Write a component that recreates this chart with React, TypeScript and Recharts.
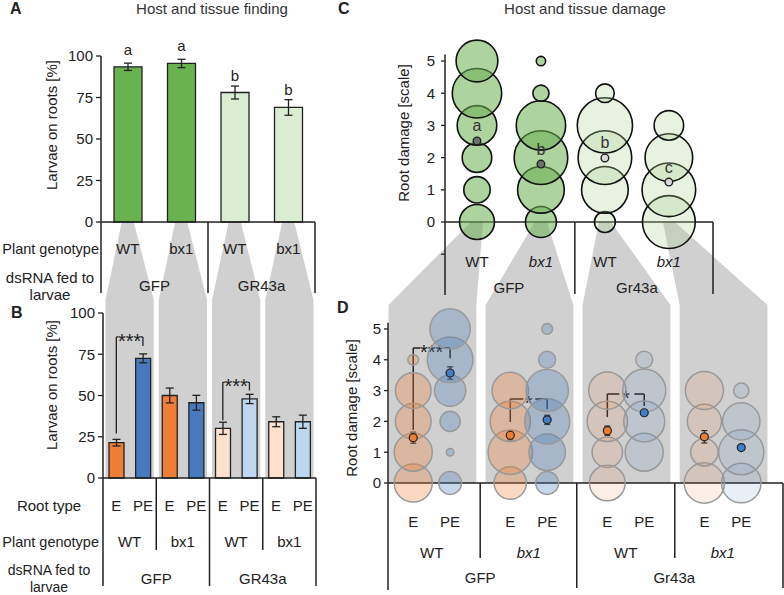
import React from 'react'
import {
  BarChart, Bar, ScatterChart, Scatter, XAxis, YAxis,
  ErrorBar, Cell, LabelList, ReferenceLine,
} from 'recharts'

const W = 784
const H = 595
const FONT = '"Liberation Sans", Arial, Helvetica, sans-serif'
const INK = '#222'
const SHADE = '#D0D0D0'

// A: host finding (% larvae on roots)
const aGenotypes = ['WT', 'bx1', 'WT', 'bx1']
const aDsRNA = ['GFP', 'GFP', 'GR43a', 'GR43a']
const aValues = [93.5, 95.5, 78, 69]
const aErrors = [2.2, 2.5, 3.9, 4.7]
const aLetters = ['a', 'a', 'b', 'b']

// B: tissue finding, per root type
const bRootTypes = ['E', 'PE', 'E', 'PE', 'E', 'PE', 'E', 'PE']
const bGenotypes = ['WT', 'WT', 'bx1', 'bx1', 'WT', 'WT', 'bx1', 'bx1']
const bDsRNA = ['GFP', 'GFP', 'GFP', 'GFP', 'GR43a', 'GR43a', 'GR43a', 'GR43a']
const bValues = [21.4, 72.5, 50, 45.6, 30.1, 47.9, 34.1, 34.1]
const bErrors = [2, 2.7, 4.5, 4.5, 3.7, 2.8, 3, 4]
const bBrackets = [
  { from: 0, to: 1, top: 85.5, left: 27, right: 80, label: '***' },
  { from: 4, to: 5, top: 58, left: 35, right: 53, label: '***' },
]

// C: host damage, % of plants per damage score
const cGenotypes = ['WT', 'bx1', 'WT', 'bx1']
const cDsRNA = ['GFP', 'GFP', 'Gr43a', 'Gr43a']
const scores = [0, 1, 2, 3, 4, 5]
const cShares = [
  [14, 8, 10, 18, 28, 20],
  [11, 25, 33, 28, 3, 1],
  [5, 25, 33, 35, 4, 0],
  [32, 33, 26, 10, 0, 0],
]
const cMeans = [2.52, 1.8, 1.99, 1.24]
const cErrors = [0.06, 0.06, 0.05, 0.05]
const cLetters = ['a', 'b', 'b', 'c']

// D: tissue damage, % of roots per damage score
const dGenotypes = ['WT', 'bx1', 'WT', 'bx1']
const dDsRNA = ['GFP', 'GFP', 'Gr43a', 'Gr43a']
const dRootTypes = ['E', 'PE']
const dSharesE = [
  [25, 25, 22, 22, 2, 0],
  [18, 34, 28, 23, 0, 0],
  [22, 16, 28, 24, 0, 0],
  [28, 13, 20, 25, 0, 0],
]
const dSharesPE = [
  [9, 1, 7, 17, 36, 28],
  [9, 23, 35, 31, 5, 2],
  [0, 25, 29, 32, 5, 0],
  [27, 35, 24, 4, 0, 0],
]
const dMeansE = [1.47, 1.55, 1.7, 1.5]
const dErrE = [0.18, 0.15, 0.15, 0.2]
const dMeansPE = [3.57, 2.05, 2.28, 1.15]
const dErrPE = [0.2, 0.15, 0.05, 0.05]
const dBrackets = [
  { group: 0, top: 4.38, left: 1.72, right: 4.05, label: '***' },
  { group: 1, top: 2.73, left: 1.98, right: 2.4, label: '*' },
  { group: 2, top: 2.89, left: 2.14, right: 2.5, label: '*' },
]

// layout
const boxA = { left: 101, right: 315, top: 56, bottom: 222 }
const boxB = { left: 103, right: 316, top: 313, bottom: 478 }
const boxC = { left: 445, right: 713, top: 54.6, bottom: 295.1 }
const boxD = { left: 388, right: 783, top: 322.8, bottom: 483 }
const C_X = [0, 4.19]
const C_Y = [-2.27, 5.2]
const D_X = [0, 4.07]
const D_Y = [0, 5.2]
const D_OFF = [0.26, 0.64]
const C_K = 21.8 // px^2 per % (bubble area)
const D_K = 14.5
const B_DASH = ['2 22.6 2 200', '2 22.6 2 200']
const D_DASH = ['7 23 7 200', '13 12 12 200', '12 15 10 200']
const Y_W = 50
const X_H = 30

const GREEN = '#6AB150'
const LIGHT_GREEN = '#DAEDD3'
const ORANGE = '#EF7E36'
const BLUE = '#4679BD'
const LIGHT_ORANGE = '#FCE1CF'
const LIGHT_BLUE = '#BDD7EE'

const marginOf = (b: any) => ({ top: b.top, right: W - b.right, bottom: H - b.bottom - X_H, left: b.left - Y_W })
const lin = (d0: number, d1: number, r0: number, r1: number) => (v: number) => r0 + ((v - d0) / (d1 - d0)) * (r1 - r0)
const band = (b: any, n: number) => (k: number) => b.left + (k * (b.right - b.left)) / n
const aX = band(boxA, 4)
const bX = band(boxB, 8)
const cX = lin(C_X[0], C_X[1], boxC.left, boxC.right)
const cY = lin(C_Y[0], C_Y[1], boxC.bottom, boxC.top)
const dX = lin(D_X[0], D_X[1], boxD.left, boxD.right)

const axisLine = { stroke: INK, strokeWidth: 1.5 }
const tickLine = { stroke: INK, strokeWidth: 1.3 }
const tickFont = { fontSize: 15, fill: INK, fontFamily: FONT }

const aData = aValues.map((v, i) => ({ id: `${aDsRNA[i]}-${aGenotypes[i]}`, dsRNA: aDsRNA[i], value: v, err: aErrors[i], letter: aLetters[i] }))
const bData = bValues.map((v, i) => ({ id: `${bDsRNA[i]}-${bGenotypes[i]}-${bRootTypes[i]}`, root: bRootTypes[i], dsRNA: bDsRNA[i], value: v, err: bErrors[i] }))

const cBubbles = cShares.map((row, i) =>
  scores.map((s, j) => ({ x: i + 0.5, y: s, share: row[j] })).filter((d) => d.share > 0))
const cMeanData = cMeans.map((m, i) => ({ x: i + 0.5, y: m, err: cErrors[i], letter: cLetters[i], dsRNA: cDsRNA[i] }))

const dBubbles = dGenotypes.flatMap((_, g) => [dSharesE[g], dSharesPE[g]].map((row, r) => ({
  g, r,
  data: scores.map((s, j) => ({ x: g + D_OFF[r], y: s, share: row[j] })).filter((d) => d.share > 0),
})))
const dMeanE = dMeansE.map((m, g) => ({ x: g + D_OFF[0], y: m, err: dErrE[g] }))
const dMeanPE = dMeansPE.map((m, g) => ({ x: g + D_OFF[1], y: m, err: dErrPE[g] }))
const dTicks = dGenotypes.flatMap((_, g) => D_OFF.map((o) => g + o))

const Txt = ({ x, y, children, anchor = 'middle', italic = false, size = 15, weight = 'normal', fill = INK }: any) => (
  <text x={x} y={y} textAnchor={anchor} fontSize={size} fontWeight={weight} fontStyle={italic ? 'italic' : 'normal'} fill={fill} fontFamily={FONT}>
    {children}
  </text>
)

const VTitle = ({ x, y, children }: any) => (
  <text transform={`translate(${x},${y}) rotate(-90)`} textAnchor="middle" dy="0.35em" fontSize={15} fill={INK} fontFamily={FONT}>
    {children}
  </text>
)

const starLabel = (txt: string) => (p: any) => {
  const vb = p.viewBox ?? {}
  const x = vb.x1 != null ? (vb.x1 + vb.x2) / 2 : (vb.x ?? 0) + (vb.width ?? 0) / 2
  const y = vb.y1 != null ? vb.y1 : vb.y ?? 0
  return (
    <text x={x} y={y + 11} textAnchor="middle" fontSize={20} fill={INK} fontFamily={FONT}>
      {txt}
    </text>
  )
}

const bubble = (k: number, fill: string, opacity: number, stroke: string, sw: number) => (p: any) => (
  <circle cx={p.cx} cy={p.cy} r={Math.sqrt(p.payload.share * k)} fill={fill} fillOpacity={opacity} stroke={stroke} strokeWidth={sw} />
)

const cMeanShape = (p: any) => (
  <g>
    <circle cx={p.cx} cy={p.cy} r={3.8} fill={p.payload.dsRNA === 'GFP' ? '#707070' : '#DADADA'} stroke={INK} strokeWidth={1.4} />
    <text x={p.cx} y={p.cy - 9.5} textAnchor="middle" fontSize={16} fill="#333" fontFamily={FONT}>{p.payload.letter}</text>
  </g>
)

const dot = (fill: string) => (p: any) => (
  <circle cx={p.cx} cy={p.cy} r={4} fill={fill} stroke={INK} strokeWidth={1.2} />
)

function Backdrop() {
  const polys: string[] = []
  for (let i = 0; i < 4; i++) {
    const c = aX(i + 0.5)
    const l = bX(2 * i) + 2.5
    const r = bX(2 * i + 2) - 2.5
    polys.push(`${c - 6},${boxA.bottom} ${c + 6},${boxA.bottom} ${r},300 ${r},${boxB.bottom} ${l},${boxB.bottom} ${l},300`)
  }
  for (let i = 0; i < 4; i++) {
    const c = cX(i + 0.5)
    const y0 = cY(0)
    const l = dX(i) + 0.5
    const r = dX(i + 0.91)
    polys.push(`${c - 6},${y0} ${c + 6},${y0} ${r},305 ${r},${boxD.bottom} ${l},${boxD.bottom} ${l},305`)
  }
  const rules: number[][] = [
    [aX(0), boxA.bottom, 293], [aX(2), boxA.bottom, 293], [aX(4), boxA.bottom, 293],
    [bX(0), boxB.bottom, 586], [bX(2), boxB.bottom, 550], [bX(4), boxB.bottom, 586],
    [bX(6), boxB.bottom, 550], [bX(8), boxB.bottom, 586],
    [cX(2.03), cY(0), 294], [boxC.right, cY(0), 294],
    [dX(0), boxD.bottom, 590], [dX(0.95), boxD.bottom, 558], [dX(1.945), boxD.bottom, 588],
    [dX(2.955), boxD.bottom, 558], [boxD.right, boxD.bottom, 588],
  ]
  return (
    <svg width={W} height={H} style={{ position: 'absolute', left: 0, top: 0 }}>
      {polys.map((p, i) => <polygon key={i} points={p} fill={SHADE} />)}
      {rules.map(([x, y1, y2], i) => <line key={i} x1={x} x2={x} y1={y1} y2={y2} stroke={INK} strokeWidth={1.5} />)}

      <Txt x={10} y={14} size={16} weight="bold" anchor="start">A</Txt>
      <Txt x={11} y={318} size={16} weight="bold" anchor="start">B</Txt>
      <Txt x={338} y={14} size={16} weight="bold" anchor="start">C</Txt>
      <Txt x={337} y={313} size={16} weight="bold" anchor="start">D</Txt>
      <Txt x={212} y={14} fill="#333">Host and tissue finding</Txt>
      <Txt x={585} y={14} fill="#333">Host and tissue damage</Txt>

      <VTitle x={52} y={125}>Larvae on roots [%]</VTitle>
      <VTitle x={52} y={385}>Larvae on roots [%]</VTitle>
      <VTitle x={404} y={133}>Root damage [scale]</VTitle>
      <VTitle x={352} y={408}>Root damage [scale]</VTitle>

      <Txt x={99} y={254} anchor="end" size={14.5}>Plant genotype</Txt>
      <Txt x={50} y={283}>dsRNA fed to</Txt>
      <Txt x={50} y={300}>larvae</Txt>
      <Txt x={aX(1)} y={291}>{aDsRNA[0]}</Txt>
      <Txt x={aX(3)} y={291}>{aDsRNA[2]}</Txt>

      <Txt x={49} y={511}>Root type</Txt>
      <Txt x={99} y={547} anchor="end" size={14.5}>Plant genotype</Txt>
      <Txt x={49} y={575} size={14}>dsRNA fed to</Txt>
      <Txt x={49} y={591.5} size={14}>larvae</Txt>
      {[0, 2, 4, 6].map((k) => <Txt key={k} x={bX(k + 1)} y={547}>{bGenotypes[k]}</Txt>)}
      <Txt x={bX(2)} y={584}>{bDsRNA[0]}</Txt>
      <Txt x={bX(6)} y={584}>{bDsRNA[4]}</Txt>

      <Txt x={cX(1)} y={293}>{cDsRNA[0]}</Txt>
      <Txt x={cX(3)} y={293}>{cDsRNA[2]}</Txt>

      {dGenotypes.map((g, i) => <Txt key={i} x={dX(i + 0.45)} y={558} italic={g === 'bx1'}>{g}</Txt>)}
      <Txt x={dX(0.95)} y={583}>{dDsRNA[0]}</Txt>
      <Txt x={dX(2.95)} y={583}>{dDsRNA[2]}</Txt>
    </svg>
  )
}

function PanelA() {
  return (
    <BarChart width={W} height={H} data={aData} margin={marginOf(boxA)}>
      <XAxis dataKey="id" interval={0} tickSize={0} tickMargin={0} tickLine={false} axisLine={axisLine}
        tick={(p: any) => <Txt x={p.x} y={p.y + 32}>{aGenotypes[p.index]}</Txt>} />
      <YAxis width={Y_W} domain={[0, 100]} ticks={[0, 25, 50, 75, 100]} tickSize={5} tickMargin={3}
        tick={tickFont} axisLine={axisLine} tickLine={tickLine} />
      <Bar dataKey="value" barSize={28} stroke={INK} strokeWidth={1.3} isAnimationActive={false}>
        {aData.map((d, i) => <Cell key={i} fill={d.dsRNA === 'GFP' ? GREEN : LIGHT_GREEN} />)}
        <ErrorBar dataKey="err" width={4} stroke={INK} strokeWidth={1.3} />
        <LabelList dataKey="letter" position="top" offset={12} fill={INK} fontSize={15} fontFamily={FONT} />
      </Bar>
    </BarChart>
  )
}

function PanelB() {
  const seg = (a: number, ya: number, b: number, yb: number) => [{ x: bData[a].id, y: ya }, { x: bData[b].id, y: yb }]
  return (
    <BarChart width={W} height={H} data={bData} margin={marginOf(boxB)}>
      <XAxis dataKey="id" interval={0} tickSize={0} tickMargin={0} tickLine={false} axisLine={axisLine}
        tick={(p: any) => <Txt x={p.x} y={p.y + 33}>{bRootTypes[p.index]}</Txt>} />
      <YAxis width={Y_W} domain={[0, 100]} ticks={[0, 25, 50, 75, 100]} tickSize={5} tickMargin={3}
        tick={tickFont} axisLine={axisLine} tickLine={tickLine} />
      <Bar dataKey="value" barSize={15} stroke={INK} strokeWidth={1.3} isAnimationActive={false}>
        {bData.map((d, i) => (
          <Cell key={i} fill={d.dsRNA === 'GFP' ? (d.root === 'E' ? ORANGE : BLUE) : (d.root === 'E' ? LIGHT_ORANGE : LIGHT_BLUE)} />
        ))}
        <ErrorBar dataKey="err" width={4} stroke={INK} strokeWidth={1.3} />
      </Bar>
      {bBrackets.map((br, k) => [
        <ReferenceLine key={`l${k}`} segment={seg(br.from, br.left, br.from, br.top)} stroke={INK} strokeWidth={1.3} />,
        <ReferenceLine key={`t${k}`} segment={seg(br.from, br.top, br.to, br.top)} stroke={INK} strokeWidth={1.3}
          strokeDasharray={B_DASH[k]} label={starLabel(br.label)} />,
        <ReferenceLine key={`r${k}`} segment={seg(br.to, br.top, br.to, br.right)} stroke={INK} strokeWidth={1.3} />,
      ])}
    </BarChart>
  )
}

function PanelC() {
  return (
    <ScatterChart width={W} height={H} margin={marginOf(boxC)}>
      <XAxis type="number" dataKey="x" domain={C_X} ticks={[0.5, 1.5, 2.5, 3.5]} interval={0} axisLine={false}
        tickLine={false} tickSize={0} tickMargin={0}
        tick={(p: any) => <Txt x={p.x} y={p.y - 28} italic={cGenotypes[p.index] === 'bx1'}>{cGenotypes[p.index]}</Txt>} />
      <YAxis type="number" dataKey="y" width={Y_W} domain={C_Y} ticks={[-1, 0, 1, 2, 3, 4, 5]}
        tickFormatter={(v: number) => (v < 0 ? '' : String(v))} tickSize={4} tickMargin={6}
        tick={tickFont} axisLine={axisLine} tickLine={tickLine} />
      <ReferenceLine y={0} stroke={INK} strokeWidth={1.5} />
      {cBubbles.map((data, i) => (
        <Scatter key={i} data={data} isAnimationActive={false}
          shape={cDsRNA[i] === 'GFP' ? bubble(C_K, '#6AAF50', 0.55, '#111', 1.6) : bubble(C_K, '#A9D18E', 0.28, '#111', 1.6)} />
      ))}
      <Scatter data={cMeanData} isAnimationActive={false} shape={cMeanShape}>
        <ErrorBar dataKey="err" direction="y" width={2.5} stroke={INK} strokeWidth={1.2} />
      </Scatter>
    </ScatterChart>
  )
}

function PanelD() {
  return (
    <ScatterChart width={W} height={H} margin={marginOf(boxD)}>
      <XAxis type="number" dataKey="x" domain={D_X} ticks={dTicks} interval={0} axisLine={axisLine}
        tickLine={false} tickSize={0} tickMargin={0}
        tick={(p: any) => <Txt x={p.x} y={p.y + 44}>{dRootTypes[p.index % 2]}</Txt>} />
      <YAxis type="number" dataKey="y" width={Y_W} domain={D_Y} ticks={[0, 1, 2, 3, 4, 5]}
        tickSize={4} tickMargin={3} tick={tickFont} axisLine={axisLine} tickLine={tickLine} />
      {dBubbles.map((s, i) => {
        const gfp = dDsRNA[s.g] === 'GFP'
        const fill = s.r === 0 ? '#ED7D31' : '#4A7EBB'
        return (
          <Scatter key={i} data={s.data} isAnimationActive={false}
            shape={bubble(D_K, fill, gfp ? 0.3 : 0.12, '#999', 1.5)} />
        )
      })}
      <Scatter data={dMeanE} isAnimationActive={false} shape={dot('#ED7D31')}>
        <ErrorBar dataKey="err" direction="y" width={3} stroke={INK} strokeWidth={1.2} />
      </Scatter>
      <Scatter data={dMeanPE} isAnimationActive={false} shape={dot('#3F7DC6')}>
        <ErrorBar dataKey="err" direction="y" width={3} stroke={INK} strokeWidth={1.2} />
      </Scatter>
      {dBrackets.map((br, k) => {
        const xe = br.group + D_OFF[0]
        const xp = br.group + D_OFF[1]
        return [
          <ReferenceLine key={`l${k}`} segment={[{ x: xe, y: br.left }, { x: xe, y: br.top }]} stroke={INK} strokeWidth={1.5} />,
          <ReferenceLine key={`t${k}`} segment={[{ x: xe, y: br.top }, { x: xp, y: br.top }]} stroke={INK} strokeWidth={1.5}
            strokeDasharray={D_DASH[k]} label={starLabel(br.label)} />,
          <ReferenceLine key={`r${k}`} segment={[{ x: xp, y: br.top }, { x: xp, y: br.right }]} stroke={INK} strokeWidth={1.5} />,
        ]
      })}
    </ScatterChart>
  )
}

const layer: React.CSSProperties = { position: 'absolute', left: 0, top: 0 }

export default function App() {
  return (
    <div style={{ position: 'absolute', left: 0, top: 0, width: W, height: H, background: '#fff', overflow: 'hidden', fontFamily: FONT }}>
      <Backdrop />
      <div style={layer}><PanelA /></div>
      <div style={layer}><PanelB /></div>
      <div style={layer}><PanelC /></div>
      <div style={layer}><PanelD /></div>
    </div>
  )
}
